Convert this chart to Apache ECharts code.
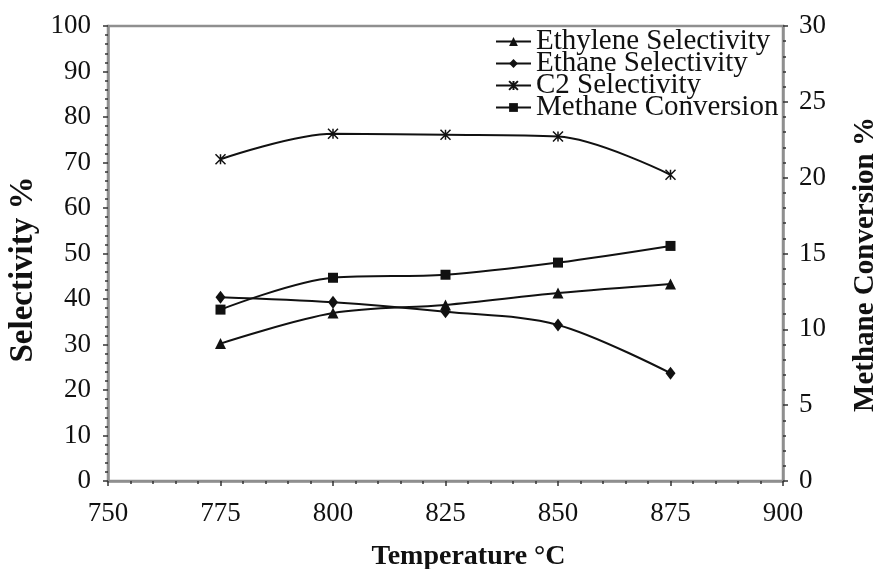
<!DOCTYPE html>
<html>
<head>
<meta charset="utf-8">
<script src="https://cdn.jsdelivr.net/npm/echarts@6/dist/echarts.min.js"></script>
<style>
  html, body { margin: 0; padding: 0; background: #fff; }
  #chart { width: 878px; height: 569px; }
</style>
</head>
<body>
<div id="chart"></div>
<script>
// Reaction temperature (°C)
const temperatures = [775, 800, 825, 850, 875];
// Selectivities (%) on the left axis
const ethyleneSelectivity = [30.2, 36.9, 38.7, 41.3, 43.3];
const ethaneSelectivity   = [40.4, 39.3, 37.2, 34.3, 23.7];
const c2Selectivity       = [70.7, 76.3, 76.1, 75.7, 67.3];
// Methane conversion (%) on the right axis
const methaneConversion   = [11.3, 13.4, 13.6, 14.4, 15.5];

const seriesNames = ['Ethylene Selectivity', 'Ethane Selectivity', 'C2 Selectivity', 'Methane Conversion'];

const FONT = "'Liberation Serif', 'Times New Roman', serif";
const INK = '#111';
const AXIS_GREY = '#8f8f8f';

function pairs(ys) {
  return temperatures.map((t, i) => [t, ys[i]]);
}

const starSymbol = 'path://M0,0L10,10M10,0L0,10M5,0L5,10';

function lineSeries(name, ys, symbol, size, yIndex, extraItem) {
  return {
    name: name,
    type: 'line',
    yAxisIndex: yIndex,
    data: pairs(ys),
    smooth: 0.33,
    symbol: symbol,
    symbolSize: size,
    showAllSymbol: true,
    lineStyle: { color: INK, width: 2 },
    itemStyle: Object.assign({ color: INK, borderColor: INK, borderWidth: 0 }, extraItem || {}),
    emphasis: { disabled: true }
  };
}

function tickStyle() {
  return {
    axisLine: { show: true, lineStyle: { color: AXIS_GREY, width: 2.5 } },
    axisTick: { show: true, inside: false, length: 5, lineStyle: { color: '#333', width: 1.5 } },
    minorTick: { show: true, splitNumber: 5, length: 3, lineStyle: { color: '#333', width: 1.5 } },
    splitLine: { show: false }
  };
}

const chart = echarts.init(document.getElementById('chart'), null, { renderer: 'canvas' });

chart.setOption({
  animation: false,
  backgroundColor: '#fff',
  textStyle: { fontFamily: FONT, color: INK },
  grid: {
    left: 108, right: 95, top: 26, bottom: 88,
    containLabel: false,
    outerBoundsMode: 'none',
    show: true, borderColor: AXIS_GREY, borderWidth: 2.5, backgroundColor: 'transparent'
  },
  legend: {
    orient: 'vertical',
    left: 495, top: 27,
    padding: 0,
    itemGap: -7,
    itemWidth: 35,
    itemHeight: 11,
    data: seriesNames,
    textStyle: { fontFamily: FONT, fontSize: 29, color: INK },
    selectedMode: false
  },
  xAxis: Object.assign({
    type: 'value',
    min: 750, max: 900, interval: 25,
    name: 'Temperature °C',
    nameLocation: 'middle',
    nameGap: 62,
    nameTextStyle: { fontFamily: FONT, fontSize: 28, fontWeight: 'bold', color: INK, padding: [0, 0, 0, 46] },
    axisLabel: { fontFamily: FONT, fontSize: 27, color: INK, margin: 19 }
  }, tickStyle()),
  yAxis: [
    Object.assign({
      type: 'value',
      min: 0, max: 100, interval: 10,
      name: 'Selectivity %',
      nameLocation: 'middle',
      nameRotate: 90,
      nameGap: 66,
      nameTextStyle: { fontFamily: FONT, fontSize: 33, fontWeight: 'bold', color: INK, padding: [0, 32, 0, 0] },
      axisLabel: { fontFamily: FONT, fontSize: 27, color: INK, margin: 17 }
    }, tickStyle()),
    Object.assign({
      type: 'value',
      min: 0, max: 30, interval: 5,
      position: 'right',
      name: 'Methane Conversion %',
      nameLocation: 'middle',
      nameRotate: 90,
      nameGap: 68,
      nameTextStyle: { fontFamily: FONT, fontSize: 29, fontWeight: 'bold', color: INK, padding: [0, 22, 0, 0] },
      axisLabel: { fontFamily: FONT, fontSize: 27, color: INK, margin: 16 }
    }, tickStyle())
  ],
  series: [
    lineSeries(seriesNames[0], ethyleneSelectivity, 'triangle', 11, 0),
    lineSeries(seriesNames[1], ethaneSelectivity, 'diamond', [10, 13], 0),
    lineSeries(seriesNames[2], c2Selectivity, starSymbol, 10, 0, { color: 'none', borderColor: INK, borderWidth: 1.5 }),
    lineSeries(seriesNames[3], methaneConversion, 'rect', 10, 1)
  ]
});
</script>
</body>
</html>
